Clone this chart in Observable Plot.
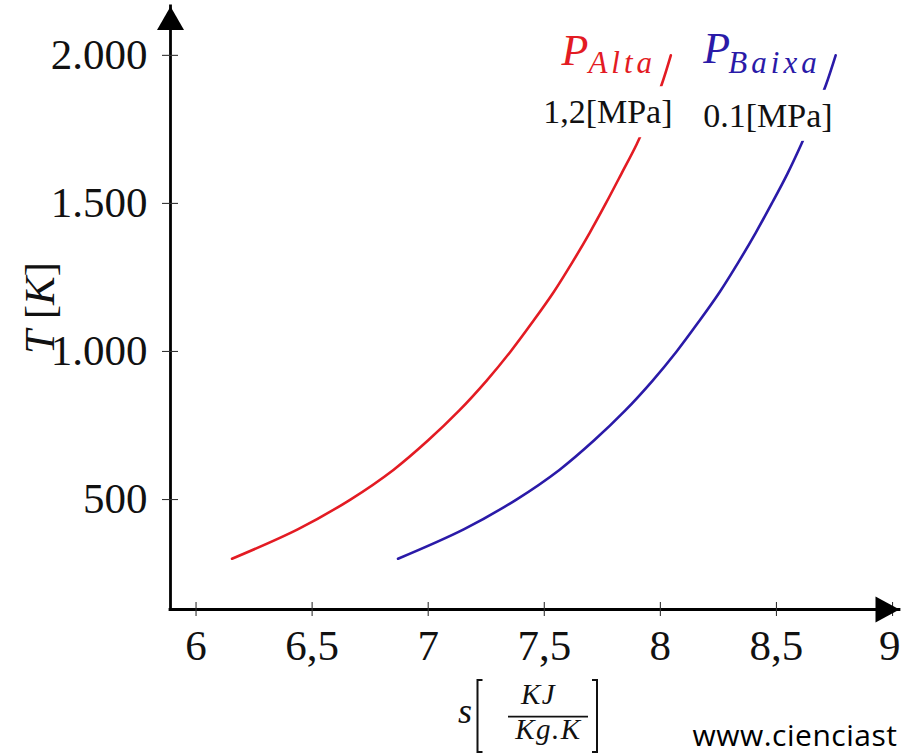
<!DOCTYPE html>
<html><head><meta charset="utf-8">
<script src="https://cdn.jsdelivr.net/npm/d3@7"></script>
<script src="https://cdn.jsdelivr.net/npm/@observablehq/plot@0.6"></script>
<style>
html,body{margin:0;padding:0;background:#fff;overflow:hidden;}
#chart{width:901px;height:753px;overflow:hidden;}
</style>
</head><body><div id="chart"></div>
<script>
// ---- data ----
const xTicks = [6, 6.5, 7, 7.5, 8, 8.5, 9];
const xTickLabels = ["6", "6,5", "7", "7,5", "8", "8,5", "9"];
const yTicks = [500, 1000, 1500, 2000];
const yTickLabels = ["500", "1.000", "1.500", "2.000"];
const temperature = [300, 400, 500, 600, 700, 800, 900, 1000, 1100, 1200, 1300, 1400, 1500, 1600, 1700, 1800, 1900, 2000];
const sAlta  = [6.155, 6.44, 6.665, 6.85, 7.0, 7.133, 7.25, 7.355, 7.45, 7.54, 7.62, 7.695, 7.765, 7.832, 7.898, 7.955, 8.005, 8.045];
const sBaixa = [6.87, 7.155, 7.38, 7.565, 7.715, 7.848, 7.965, 8.07, 8.165, 8.255, 8.335, 8.41, 8.48, 8.547, 8.607, 8.662, 8.713, 8.755];
const seriesSub = ["Alta", "Baixa"];
const pressureLabels = ["1,2[MPa]", "0.1[MPa]"];
const xDomain = [5.89, 9.03];
const yDomain = [128.6, 2165];

const RED = "#e31b23", BLUE = "#2a1aa8";
const serif = "'Liberation Serif', 'Times New Roman', serif";

const alta = temperature.map((T, i) => ({s: sAlta[i], T}));
const baixa = temperature.map((T, i) => ({s: sBaixa[i], T}));
const endAlta = [alta[alta.length - 1]];
const endBaixa = [baixa[baixa.length - 1]];
const lastTick = xTicks.length - 1;

const arrowUp = {draw(ctx) { ctx.moveTo(0, 0); ctx.lineTo(-13.5, 23.5); ctx.lineTo(13.5, 23.5); ctx.closePath(); }};
const arrowRight = {draw(ctx) { ctx.moveTo(0, 0); ctx.lineTo(-24, -13); ctx.lineTo(-24, 13); ctx.closePath(); }};

const chart = Plot.plot({
  width: 901,
  height: 753,
  marginLeft: 170,
  marginRight: 2,
  marginTop: 6,
  marginBottom: 144,
  style: {background: "#fff", fontFamily: serif, fontSize: "40px", overflow: "hidden"},
  x: {domain: xDomain, axis: null},
  y: {domain: yDomain, axis: null},
  marks: [
    // curves
    Plot.line(alta, {x: "s", y: "T", stroke: RED, strokeWidth: 2.6, curve: "catmull-rom"}),
    Plot.line(baixa, {x: "s", y: "T", stroke: BLUE, strokeWidth: 2.6, curve: "catmull-rom"}),
    // axis lines
    Plot.ruleX([xDomain[0]], {x: d => d, y1: () => yDomain[0], y2: () => yDomain[1], stroke: "#000", strokeWidth: 2.8, strokeLinecap: "square"}),
    Plot.ruleY([yDomain[0]], {y: d => d, x1: () => xDomain[0], x2: () => xDomain[1], stroke: "#000", strokeWidth: 2.8, strokeLinecap: "square"}),
    // tick marks crossing the axes
    Plot.ruleX(xTicks, {x: d => d, y1: () => yDomain[0], y2: () => yDomain[0], insetTop: -7, insetBottom: -7, stroke: "#333", strokeWidth: 1.1}),
    Plot.ruleY(yTicks, {y: d => d, x1: () => xDomain[0], x2: () => xDomain[0], insetLeft: -8, insetRight: -8, stroke: "#333", strokeWidth: 1.1}),
    // arrow heads
    Plot.dot([0], {x: () => xDomain[0], y: () => yDomain[1], symbol: arrowUp, fill: "#000", r: 10}),
    Plot.dot([0], {x: () => xDomain[1], y: () => yDomain[0], symbol: arrowRight, fill: "#000", r: 10}),
    // tick labels
    Plot.text(xTicks.slice(0, lastTick), {x: d => d, y: () => yDomain[0], text: (d, i) => xTickLabels[i], dy: 37, fontSize: 43, lineAnchor: "middle", fill: "#111"}),
    Plot.text(xTicks.slice(lastTick), {x: d => d, y: () => yDomain[0], text: () => xTickLabels[lastTick], dx: 8, dy: 37, textAnchor: "end", fontSize: 43, lineAnchor: "middle", fill: "#111"}),
    Plot.text(yTicks, {x: () => xDomain[0], y: d => d, text: (d, i) => yTickLabels[i], dx: -23, textAnchor: "end", lineAnchor: "middle", fontSize: 43, fill: "#111"}),
    // y axis label
    Plot.text(["T [K]"], {frameAnchor: "left", text: d => d, rotate: -90, dx: -117, textAnchor: "middle", lineAnchor: "bottom", fontSize: 43, fill: "#111"}),
    // x axis label parts
    Plot.text(["s"], {frameAnchor: "bottom", text: d => d, dx: -77, dy: 113, textAnchor: "start", lineAnchor: "bottom", fontStyle: "italic", fontSize: 36, fill: "#111"}),
    Plot.text(["KJ"], {frameAnchor: "bottom", text: d => d, dx: 3.5, dy: 94, textAnchor: "middle", lineAnchor: "bottom", fontStyle: "italic", fontSize: 29, fill: "#111"}),
    Plot.text(["Kg.K"], {frameAnchor: "bottom", text: d => d, dx: 13.5, dy: 129, textAnchor: "middle", lineAnchor: "bottom", fontStyle: "italic", fontSize: 29, fill: "#111"}),
    // watermark
    Plot.text(["www.cienciast"], {frameAnchor: "bottom", text: d => d, dx: 157.5, dy: 136, textAnchor: "start", lineAnchor: "bottom", fontFamily: "'Open Sans', 'Noto Sans', sans-serif", fontSize: 30, fill: "#000"}),
    // series labels
    Plot.text(endAlta, {x: "s", y: "T", text: () => "P", dx: -109.4, dy: 10, textAnchor: "start", lineAnchor: "bottom", fontStyle: "italic", fontSize: 44, fill: RED}),
    Plot.text(endAlta, {x: "s", y: "T", text: () => seriesSub[0], dx: -82.4, dy: 18, textAnchor: "start", lineAnchor: "bottom", fontStyle: "italic", fontSize: 31, fill: RED}),
    Plot.text(endAlta, {x: "s", y: "T", text: () => pressureLabels[0], dx: -63, dy: 57, textAnchor: "middle", lineAnchor: "middle", fontSize: 34, fill: "#111"}),
    Plot.text(endBaixa, {x: "s", y: "T", text: () => "P", dx: -132.3, dy: 8, textAnchor: "start", lineAnchor: "bottom", fontStyle: "italic", fontSize: 44, fill: BLUE}),
    Plot.text(endBaixa, {x: "s", y: "T", text: () => seriesSub[1], dx: -107.3, dy: 18, textAnchor: "start", lineAnchor: "bottom", fontStyle: "italic", fontSize: 31, fill: BLUE}),
    Plot.text(endBaixa, {x: "s", y: "T", text: () => pressureLabels[1], dx: -67.8, dy: 60.6, textAnchor: "middle", lineAnchor: "middle", fontSize: 34, fill: "#111"})
  ]
});

document.getElementById("chart").append(chart);
const svg = d3.select(chart);

// white boxes behind pressure labels (they hide the curves like the original)
svg.selectAll("text").filter(function () { return pressureLabels.includes(this.textContent); }).each(function () {
  const b = this.getBBox();
  const r = document.createElementNS("http://www.w3.org/2000/svg", "rect");
  r.setAttribute("x", b.x - 4);
  r.setAttribute("y", b.y - 7);
  r.setAttribute("width", b.width + 8);
  r.setAttribute("height", b.height + 14);
  r.setAttribute("fill", "#fff");
  const tr = this.getAttribute("transform");
  if (tr) r.setAttribute("transform", tr);
  this.parentNode.insertBefore(r, this);
});

// subscript and fraction letter spacing
svg.selectAll("text").filter(function () { return seriesSub.includes(this.textContent); }).attr("letter-spacing", 4);
svg.selectAll("text").filter(function () { return this.textContent === "KJ" || this.textContent === "Kg.K"; }).attr("letter-spacing", 1.5);
svg.selectAll("text").filter(function () { return this.textContent === "www.cienciast"; }).attr("letter-spacing", 0.5);

// y label: italic T and K, upright brackets
svg.selectAll("text").filter(function () { return this.textContent === "T [K]"; }).each(function () {
  const t = d3.select(this);
  t.text(null);
  t.append("tspan").attr("font-style", "italic").text("T");
  t.append("tspan").text(" [");
  t.append("tspan").attr("font-style", "italic").text("K");
  t.append("tspan").text("]");
});

// fraction bar and brackets of the x label, placed from the frame's bottom centre
const xs = chart.scale("x"), ys = chart.scale("y");
const fx = (xs.range[0] + xs.range[1]) / 2, fy = ys.range[0];
const g = svg.append("g").attr("fill", "none").attr("stroke", "#111");
g.append("line").attr("x1", fx - 26.5).attr("x2", fx + 53.5).attr("y1", fy + 107.7).attr("y2", fy + 107.7).attr("stroke-width", 1.7);
g.append("path").attr("d", `M${fx - 52},${fy + 71}H${fx - 57}V${fy + 143}H${fx - 52}`).attr("stroke-width", 2);
g.append("path").attr("d", `M${fx + 57.5},${fy + 71}H${fx + 62.5}V${fy + 143}H${fx + 57.5}`).attr("stroke-width", 2);
</script>
</body></html>
